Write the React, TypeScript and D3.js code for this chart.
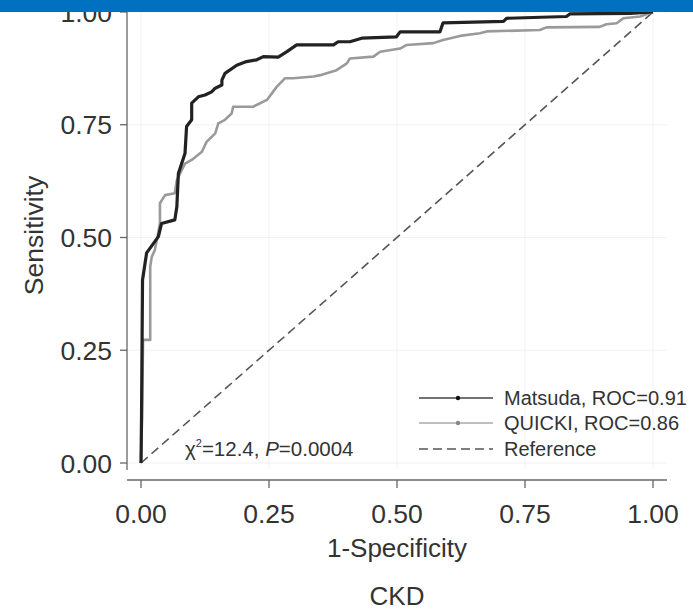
import React from "react";
import * as d3 from "d3";

// ROC coordinates: 1-specificity (fpr) and sensitivity (tpr)
const matsudaFpr = [0, 0.001, 0.003, 0.011, 0.034, 0.040, 0.066, 0.070, 0.073, 0.086, 0.089, 0.099, 0.099, 0.112, 0.125, 0.138, 0.145, 0.158, 0.158, 0.164, 0.187, 0.206, 0.226, 0.239, 0.268, 0.285, 0.304, 0.376, 0.385, 0.408, 0.431, 0.499, 0.506, 0.584, 0.590, 0.708, 0.714, 0.831, 0.838, 0.955, 1];
const matsudaTpr = [0, 0.10, 0.406, 0.466, 0.502, 0.531, 0.539, 0.568, 0.642, 0.687, 0.746, 0.761, 0.798, 0.812, 0.816, 0.823, 0.831, 0.838, 0.849, 0.864, 0.882, 0.890, 0.894, 0.901, 0.900, 0.912, 0.927, 0.927, 0.934, 0.934, 0.942, 0.945, 0.956, 0.956, 0.976, 0.979, 0.986, 0.990, 0.996, 0.997, 1];

const quickiFpr = [0, 0.002, 0.004, 0.018, 0.018, 0.021, 0.027, 0.037, 0.037, 0.047, 0.066, 0.070, 0.086, 0.099, 0.119, 0.128, 0.145, 0.151, 0.164, 0.177, 0.180, 0.219, 0.246, 0.265, 0.281, 0.297, 0.337, 0.350, 0.382, 0.402, 0.408, 0.454, 0.467, 0.506, 0.519, 0.571, 0.590, 0.623, 0.662, 0.675, 0.779, 0.792, 0.896, 0.909, 0.929, 0.942, 0.975, 1];
const quickiTpr = [0, 0.10, 0.273, 0.273, 0.435, 0.457, 0.472, 0.531, 0.576, 0.594, 0.598, 0.627, 0.664, 0.672, 0.690, 0.712, 0.731, 0.753, 0.761, 0.775, 0.790, 0.790, 0.805, 0.834, 0.853, 0.853, 0.857, 0.860, 0.871, 0.886, 0.897, 0.901, 0.912, 0.919, 0.927, 0.931, 0.938, 0.947, 0.953, 0.957, 0.960, 0.966, 0.967, 0.973, 0.975, 0.986, 0.990, 1];

const referenceFpr = [0, 1];
const referenceTpr = [0, 1];

const tickValues = [0, 0.25, 0.5, 0.75, 1];
const tickLabels = ["0.00", "0.25", "0.50", "0.75", "1.00"];

const legendLabels = ["Matsuda, ROC=0.91", "QUICKI, ROC=0.86", "Reference"];

const W = 693;
const H = 611;
const FONT = "'Liberation Sans', Arial, Helvetica, sans-serif";

export default function App() {
  const x = d3.scaleLinear().domain([0, 1]).range([141, 653]);
  const y = d3.scaleLinear().domain([0, 1]).range([463, 12]);

  const line = d3
    .line<[number, number]>()
    .x((d) => x(d[0]))
    .y((d) => y(d[1]));

  const zip = (a: number[], b: number[]) => a.map((v, i) => [v, b[i]] as [number, number]);

  const axisY = 127;
  const axisX = 480;
  const textColor = "#333";

  return (
    <svg
      width={W}
      height={H}
      style={{ position: "absolute", left: 0, top: 0, background: "#fff" }}
      fontFamily={FONT}
    >
      <rect x={0} y={0} width={W} height={H} fill="#fff" />

      {/* faint grid */}
      {tickValues.map((t) => (
        <line key={"gx" + t} x1={x(t)} x2={x(t)} y1={0} y2={470} stroke="#f2f2f2" strokeWidth={1} />
      ))}
      {tickValues.map((t) => (
        <line key={"gy" + t} x1={axisY} x2={667} y1={y(t)} y2={y(t)} stroke="#f2f2f2" strokeWidth={1} />
      ))}

      {/* reference diagonal */}
      <path
        d={line(zip(referenceFpr, referenceTpr)) || ""}
        fill="none"
        stroke="#555"
        strokeWidth={1.6}
        strokeDasharray="9 5"
      />

      {/* QUICKI curve */}
      <path
        d={line(zip(quickiFpr, quickiTpr)) || ""}
        fill="none"
        stroke="#9a9a9a"
        strokeWidth={2.6}
        strokeLinejoin="round"
      />

      {/* Matsuda curve */}
      <path
        d={line(zip(matsudaFpr, matsudaTpr)) || ""}
        fill="none"
        stroke="#222"
        strokeWidth={3.2}
        strokeLinejoin="round"
      />

      {/* y axis */}
      <line x1={axisY} x2={axisY} y1={0} y2={470} stroke="#666" strokeWidth={1.3} />
      {tickValues.map((t, i) => (
        <g key={"yt" + t}>
          <line x1={axisY - 7} x2={axisY} y1={y(t)} y2={y(t)} stroke="#666" strokeWidth={1.3} />
          <text
            x={112}
            y={y(t)}
            dy="0.36em"
            textAnchor="end"
            fontSize={26.5}
            fill={textColor}
          >
            {tickLabels[i]}
          </text>
        </g>
      ))}

      {/* x axis */}
      <line x1={axisY} x2={667} y1={axisX} y2={axisX} stroke="#666" strokeWidth={1.3} />
      {tickValues.map((t, i) => (
        <g key={"xt" + t}>
          <line x1={x(t)} x2={x(t)} y1={axisX} y2={axisX + 8} stroke="#666" strokeWidth={1.3} />
          <text x={x(t)} y={523} textAnchor="middle" fontSize={26.5} fill={textColor}>
            {tickLabels[i]}
          </text>
        </g>
      ))}

      {/* axis titles */}
      <text x={x(0.5)} y={557} textAnchor="middle" fontSize={26} fill={textColor}>
        1-Specificity
      </text>
      <text x={x(0.5)} y={605} textAnchor="middle" fontSize={26} fill={textColor}>
        CKD
      </text>
      <text
        transform={`translate(43, ${y(0.5) - 2}) rotate(-90)`}
        textAnchor="middle"
        fontSize={26.5}
        fill={textColor}
      >
        Sensitivity
      </text>

      {/* chi-square annotation */}
      <text x={185} y={456} fontSize={20.5} fill={textColor}>
        χ<tspan dy={-9} fontSize={11}>2</tspan>
        <tspan dy={9}>=12.4, </tspan>
        <tspan fontStyle="italic">P</tspan>
        <tspan>=0.0004</tspan>
      </text>

      {/* legend */}
      <g>
        <line x1={419} x2={493} y1={398} y2={398} stroke="#444" strokeWidth={1.6} />
        <circle cx={458} cy={398} r={2.2} fill="#111" />
        <text x={504} y={405} fontSize={20} fill={textColor}>
          {legendLabels[0]}
        </text>

        <line x1={419} x2={493} y1={423} y2={423} stroke="#aaa" strokeWidth={1.6} />
        <circle cx={458} cy={423} r={2.2} fill="#888" />
        <text x={504} y={430} fontSize={20} fill={textColor}>
          {legendLabels[1]}
        </text>

        <line
          x1={419}
          x2={493}
          y1={449}
          y2={449}
          stroke="#555"
          strokeWidth={1.6}
          strokeDasharray="9 5"
        />
        <text x={504} y={456} fontSize={20} fill={textColor}>
          {legendLabels[2]}
        </text>
      </g>

      {/* page header band */}
      <rect x={0} y={0} width={W} height={12} fill="#0070c0" />
    </svg>
  );
}
